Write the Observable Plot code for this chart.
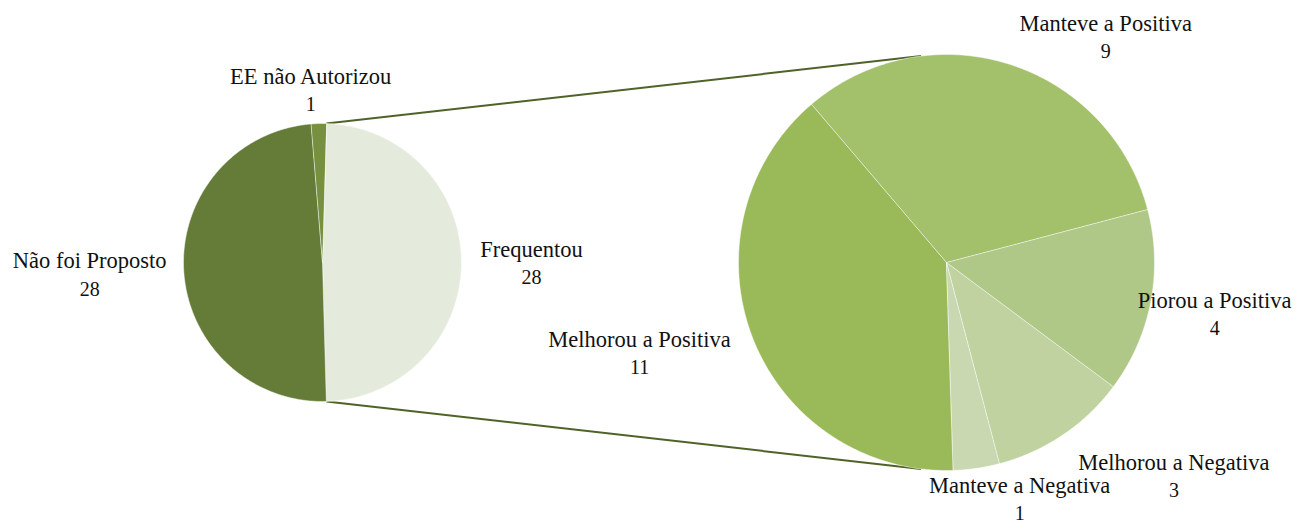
<!DOCTYPE html>
<html>
<head>
<meta charset="utf-8">
<script src="https://cdn.jsdelivr.net/npm/d3@7"></script>
<script src="https://cdn.jsdelivr.net/npm/@observablehq/plot@0.6"></script>
<style>
  html, body { margin: 0; padding: 0; background: #ffffff; }
  #chart svg { display: block; }
</style>
</head>
<body>
<div id="chart"></div>
<script>
// ---- Data ----
const leftNames = ["Frequentou", "Não foi Proposto", "EE não Autorizou"];
const leftValues = [28, 28, 1];
const rightNames = ["Melhorou a Positiva", "Manteve a Positiva", "Piorou a Positiva", "Melhorou a Negativa", "Manteve a Negativa"];
const rightValues = [11, 9, 4, 3, 1];

// ---- Styles ----
const leftColors = ["#e5ebdc", "#657c38", "#76903f"];
const rightColors = ["#9ab959", "#a3c16a", "#b0c887", "#bfd29f", "#c9d8b1"];
const connectorColor = "#4f6228";
const fontFamily = "'Liberation Serif', 'DejaVu Serif', serif";

// ---- Layout (plot units) ----
const W = 1295, H = 524;
const leftPie = {cx: 322, cy: 262, r: 139};
const rightPie = {cx: 946, cy: 262, r: 208, start: 178.1};
const rightConnectorAngle = 7; // degrees from vertical where connectors meet second pie
const leftLabelOffsets = [[70, 1], [-94, 5], [-8, -33]];
const rightLabelOffsets = [[-113, 16], [97, -26], [64, 13], [111, 42], [43, 31]];
const lineGap = 14;

const rad = d => d * Math.PI / 180;
const total = arr => arr.reduce((a, b) => a + b, 0);

// left pie: first slice (Frequentou) centred on the right (east)
const leftSpan = 2 * Math.PI * leftValues[0] / total(leftValues);
const leftStart = Math.PI / 2 - leftSpan / 2;

function buildPie(names, values, colors, pie, startAngle, offsets) {
  const arcs = d3.pie().sort(null).value(d => d.value)
    .startAngle(startAngle).endAngle(startAngle + 2 * Math.PI)(
      names.map((n, i) => ({name: n, value: values[i], color: colors[i], off: offsets[i]}))
    );
  const pts = [];
  const labels = [];
  for (const a of arcs) {
    pts.push({name: a.data.name, x: pie.cx, y: pie.cy});
    const n = Math.max(2, Math.ceil((a.endAngle - a.startAngle) / rad(0.5)));
    for (let k = 0; k <= n; k++) {
      const t = a.startAngle + (a.endAngle - a.startAngle) * k / n;
      pts.push({name: a.data.name, x: pie.cx + pie.r * Math.sin(t), y: pie.cy - pie.r * Math.cos(t)});
    }
    const b = (a.startAngle + a.endAngle) / 2;
    labels.push({
      name: a.data.name,
      value: a.data.value,
      x: pie.cx + pie.r * Math.sin(b) + a.data.off[0],
      y: pie.cy - pie.r * Math.cos(b) + a.data.off[1]
    });
  }
  return {arcs, pts, labels};
}

const L = buildPie(leftNames, leftValues, leftColors, leftPie, leftStart, leftLabelOffsets);
const R = buildPie(rightNames, rightValues, rightColors, rightPie, rad(rightPie.start), rightLabelOffsets);

// connectors from the edges of the "Frequentou" slice to the second pie
const fa = L.arcs[0];
const connectors = [
  {
    x1: leftPie.cx + leftPie.r * Math.sin(fa.startAngle), y1: leftPie.cy - leftPie.r * Math.cos(fa.startAngle),
    x2: rightPie.cx + rightPie.r * Math.sin(rad(-rightConnectorAngle)), y2: rightPie.cy - rightPie.r * Math.cos(rad(-rightConnectorAngle))
  },
  {
    x1: leftPie.cx + leftPie.r * Math.sin(fa.endAngle), y1: leftPie.cy - leftPie.r * Math.cos(fa.endAngle),
    x2: rightPie.cx + rightPie.r * Math.sin(rad(180 + rightConnectorAngle)), y2: rightPie.cy - rightPie.r * Math.cos(rad(180 + rightConnectorAngle))
  }
];

const allLabels = [...L.labels, ...R.labels];

const chart = Plot.plot({
  width: W,
  height: H,
  margin: 0,
  style: {background: "#ffffff", fontFamily},
  x: {domain: [0, W], range: [0, W], axis: null},
  y: {domain: [0, H], range: [0, H], axis: null},
  color: {domain: [...leftNames, ...rightNames], range: [...leftColors, ...rightColors]},
  marks: [
    Plot.link(connectors, {x1: "x1", y1: "y1", x2: "x2", y2: "y2", stroke: connectorColor, strokeWidth: 2}),
    Plot.line(L.pts, {x: "x", y: "y", z: "name", fill: "name", stroke: "white", strokeWidth: 0.8, strokeOpacity: 0.6, curve: "linear-closed"}),
    Plot.line(R.pts, {x: "x", y: "y", z: "name", fill: "name", stroke: "white", strokeWidth: 0.8, strokeOpacity: 0.6, curve: "linear-closed"}),
    Plot.text(allLabels, {x: "x", y: d => d.y - lineGap, text: "name", fontSize: 22.5, fill: "#111", textAnchor: "middle", fontFamily}),
    Plot.text(allLabels, {x: "x", y: d => d.y + lineGap, text: d => String(d.value), fontSize: 20, fill: "#111", textAnchor: "middle", fontFamily})
  ]
});
document.getElementById("chart").appendChild(chart);
</script>
</body>
</html>
